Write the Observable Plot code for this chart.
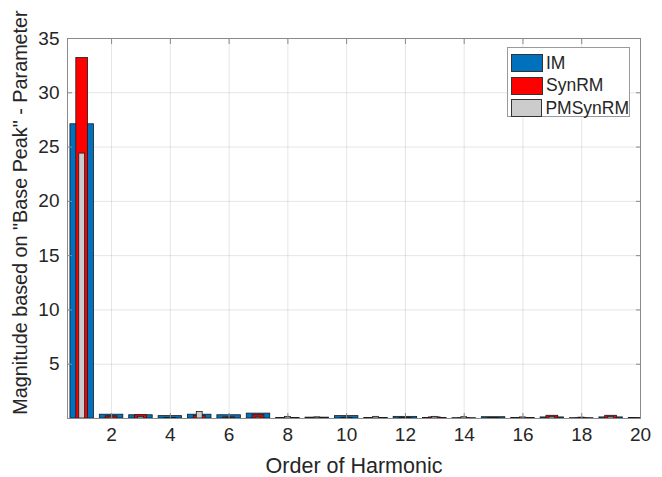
<!DOCTYPE html>
<html>
<head>
<meta charset="utf-8">
<script src="https://cdn.jsdelivr.net/npm/d3@7"></script>
<script src="https://cdn.jsdelivr.net/npm/@observablehq/plot@0.6"></script>
<style>
  body { margin: 0; background: #fff; font-family: "Liberation Sans", Arial, sans-serif; }
  #chart { position: relative; width: 662px; height: 477px; }
  .legend {
    position: absolute; left: 507px; top: 47px; width: 123px; height: 70px;
    box-sizing: border-box; border: 1px solid #9a9a9a; background: #fff;
    padding: 4px 0 0 3px; color: #262626; font-size: 17.5px;
  }
  .legend .row { display: flex; align-items: center; height: 22.5px; }
  .legend .sw { width: 30px; height: 16px; border: 1px solid #333; margin-right: 3px; }
</style>
</head>
<body>
<div id="chart"></div>
<script>
// Harmonic orders and magnitudes relative to the base peak
const harmonics = [1, 2, 3, 4, 5, 6, 7, 8, 9, 10, 11, 12, 13, 14, 15, 16, 17, 18, 19, 20];
const imValues      = [27.1, 0.35, 0.30, 0.22, 0.35, 0.30, 0.45, 0.05, 0.08, 0.22, 0.05, 0.15, 0.05, 0.03, 0.12, 0.05, 0.10, 0.03, 0.10, 0.05];
const synrmValues   = [33.2, 0.20, 0.30, 0.05, 0.25, 0.10, 0.30, 0.05, 0.05, 0.05, 0.05, 0.05, 0.10, 0.02, 0.05, 0.03, 0.25, 0.02, 0.25, 0.02];
const pmsynrmValues = [24.4, 0.10, 0.15, 0.05, 0.60, 0.05, 0.10, 0.15, 0.10, 0.08, 0.15, 0.05, 0.15, 0.12, 0.05, 0.10, 0.15, 0.08, 0.15, 0.03];
const seriesNames = ["IM", "SynRM", "PMSynRM"];
const xTicks = [2, 4, 6, 8, 10, 12, 14, 16, 18, 20];
const yTicks = [5, 10, 15, 20, 25, 30, 35];
const yLabel = 'Magnitude based on "Base Peak" - Parameter';
const xLabel = "Order of Harmonic";

// Bar styling per series: wide IM bars behind narrower overlaid bars
const styles = {
  IM:      { width: 0.8, fill: "#0072bd" },
  SynRM:   { width: 0.4, fill: "#ff0000" },
  PMSynRM: { width: 0.2, fill: "#cccccc" }
};
const valuesBySeries = { IM: imValues, SynRM: synrmValues, PMSynRM: pmsynrmValues };

const rows = seriesNames.flatMap(s =>
  harmonics.map((h, i) => ({ series: s, h, v: valuesBySeries[s][i] }))
);

const textColor = "#262626";
const barMarks = seriesNames.map(s =>
  Plot.rectY(rows.filter(d => d.series === s), {
    x1: d => d.h - styles[s].width / 2,
    x2: d => d.h + styles[s].width / 2,
    y: "v",
    fill: styles[s].fill,
    stroke: "#1a1a1a",
    strokeWidth: 0.8,
    clip: true
  })
);

const plot = Plot.plot({
  width: 662,
  height: 477,
  marginLeft: 67,
  marginRight: 22,
  marginTop: 38,
  marginBottom: 59,
  style: { fontFamily: "Liberation Sans, Arial, sans-serif", fontSize: "19px", color: textColor, background: "#fff" },
  x: { type: "linear", domain: [0.5, 20] },
  y: { domain: [0, 35] },
  marks: [
    Plot.gridX(xTicks, { stroke: "#000", strokeOpacity: 0.1 }),
    Plot.gridY(yTicks, { stroke: "#000", strokeOpacity: 0.1 }),
    ...barMarks,
    Plot.frame({ stroke: "#8a8a8a" }),
    // inward tick marks on all four sides
    Plot.axisX(xTicks, { anchor: "bottom", tickSize: -5, tickFormat: () => "", label: null, stroke: "#8a8a8a" }),
    Plot.axisX(xTicks, { anchor: "top", tickSize: -5, tickFormat: () => "", label: null, stroke: "#8a8a8a" }),
    Plot.axisY(yTicks, { anchor: "left", tickSize: -5, tickFormat: () => "", label: null, stroke: "#8a8a8a" }),
    Plot.axisY(yTicks, { anchor: "right", tickSize: -5, tickFormat: () => "", label: null, stroke: "#8a8a8a" }),
    // tick labels
    Plot.axisX(xTicks, { anchor: "bottom", tickSize: 0, tickPadding: 9, fontSize: 19, label: null, fill: textColor }),
    Plot.axisY(yTicks, { anchor: "left", tickSize: 0, tickPadding: 8, fontSize: 19, label: null, fill: textColor }),
    // axis titles
    Plot.text([xLabel], { frameAnchor: "bottom", textAnchor: "middle", dy: 54, fontSize: 21.5, fill: textColor }),
    Plot.text([yLabel], { frameAnchor: "left", textAnchor: "middle", rotate: -90, dx: -47, dy: -16, fontSize: 19.8, fill: textColor })
  ]
});

const chart = document.getElementById("chart");
chart.appendChild(plot);

// Legend box in the upper right of the axes
const legend = document.createElement("div");
legend.className = "legend";
for (const s of seriesNames) {
  const row = document.createElement("div");
  row.className = "row";
  const sw = document.createElement("span");
  sw.className = "sw";
  sw.style.background = styles[s].fill;
  const label = document.createElement("span");
  label.textContent = s;
  row.appendChild(sw);
  row.appendChild(label);
  legend.appendChild(row);
}
chart.appendChild(legend);
</script>
</body>
</html>
